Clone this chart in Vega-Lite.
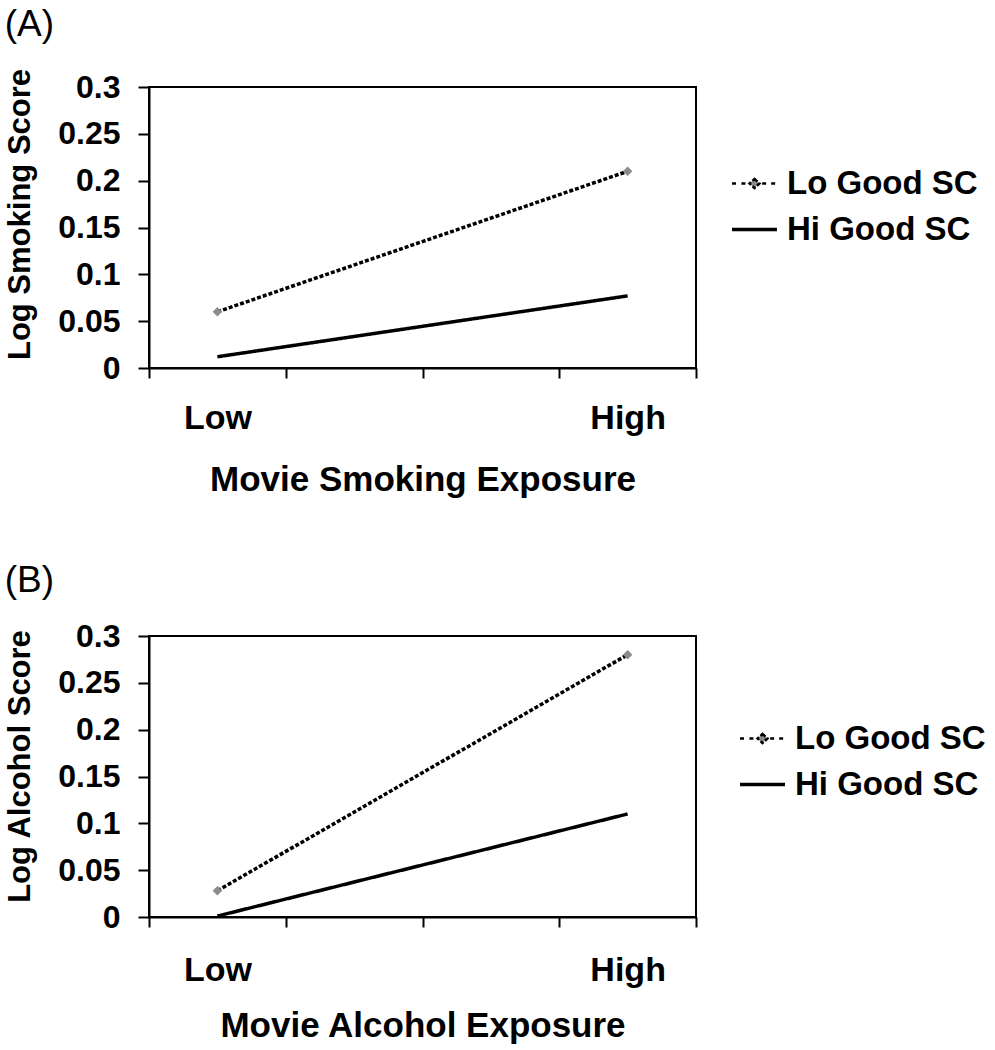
{
  "$schema": "https://vega.github.io/schema/vega-lite/v6.json",
  "background": "white",
  "padding": {"left": 3, "top": 5, "right": 0, "bottom": 0},
  "spacing": 63,
  "config": {
    "view": {"stroke": "black", "strokeWidth": 2},
    "axis": {
      "domainColor": "black", "domainWidth": 2, "tickColor": "black", "tickWidth": 2,
      "labelColor": "black", "titleColor": "black", "grid": false,
      "labelFont": "Liberation Sans", "titleFont": "Liberation Sans",
      "labelFontWeight": "bold", "titleFontWeight": "bold"
    },
    "title": {"font": "Liberation Sans", "fontSize": 37, "fontWeight": "normal", "color": "black", "anchor": "start", "frame": "bounds", "baseline": "alphabetic"}
  },
  "datasets": {
    "smoking": [
      {"group": "Lo Good SC", "exposure": "Low", "value": 0.06},
      {"group": "Lo Good SC", "exposure": "High", "value": 0.21},
      {"group": "Hi Good SC", "exposure": "Low", "value": 0.012},
      {"group": "Hi Good SC", "exposure": "High", "value": 0.077}
    ],
    "alcohol": [
      {"group": "Lo Good SC", "exposure": "Low", "value": 0.028},
      {"group": "Lo Good SC", "exposure": "High", "value": 0.28},
      {"group": "Hi Good SC", "exposure": "Low", "value": 0.001},
      {"group": "Hi Good SC", "exposure": "High", "value": 0.11}
    ]
  },
  "resolve": {"scale": {"color": "independent", "strokeDash": "independent"}, "legend": {"color": "independent"}},
  "vconcat": [
    {
      "title": {"text": "(A)", "offset": 24},
      "width": 547,
      "height": 281,
      "data": {"name": "smoking"},
      "layer": [
        {
          "mark": {"type": "line", "strokeWidth": 3.5},
          "encoding": {
            "x": {
              "field": "exposure", "type": "ordinal", "bandPosition": 0.5,
              "scale": {"type": "band", "domain": ["Low", "q2", "q3", "High"], "paddingInner": 0, "paddingOuter": 0},
              "title": "Movie Smoking Exposure",
              "axis": {"tickBand": "extent", "labelAngle": 0, "labelExpr": "datum.value === 'Low' || datum.value === 'High' ? datum.value : ''", "tickSize": 10, "labelPadding": 23, "labelFontSize": 34, "titleFontSize": 35, "titlePadding": 27}
            },
            "y": {
              "field": "value", "type": "quantitative",
              "scale": {"domain": [0, 0.3], "nice": false},
              "title": "Log Smoking Score",
              "axis": {"values": [0, 0.05, 0.1, 0.15, 0.2, 0.25, 0.3], "format": ".2~f", "tickSize": 11, "labelPadding": 18, "labelFontSize": 32, "titleFontSize": 31, "titlePadding": 21, "titleY": 127}
            },
            "color": {
              "field": "group", "type": "nominal",
              "scale": {"domain": ["Lo Good SC", "Hi Good SC"], "range": ["black", "black"]},
              "legend": {
                "title": null, "orient": "none", "legendX": 589, "legendY": 80, "padding": 0,
                "labelFont": "Liberation Sans", "labelFontWeight": "bold", "labelFontSize": 33, "labelColor": "black", "labelLimit": 0,
                "labelOffset": 16, "symbolSize": 2025, "rowPadding": 12, "symbolType": "stroke",
                "encode": {"symbols": {"update": {
                  "shape": {"signal": "datum.value === 'Lo Good SC' ? 'M-1,0H-0.74M-0.58,0H-0.34M0.34,0H0.58M0.74,0H1M0,-0.2L0.22,0L0,0.2L-0.22,0Z' : 'stroke'"},
                  "stroke": {"signal": "datum.value === 'Lo Good SC' ? '#a6a6a6' : 'black'"},
                  "fill": {"signal": "datum.value === 'Lo Good SC' ? '#8c8c8c' : 'transparent'"},
                  "strokeWidth": {"signal": "datum.value === 'Lo Good SC' ? 2.5 : 3.5"},
                  "strokeDash": {"value": [1, 0]},
                  "size": {"value": 2025}
                }}}
              }
            },
            "strokeDash": {
              "field": "group", "type": "nominal",
              "scale": {"domain": ["Lo Good SC", "Hi Good SC"], "range": [[4, 2], [1, 0]]},
              "legend": null
            }
          }
        },
        {
          "transform": [{"filter": "datum.group === 'Lo Good SC'"}],
          "mark": {"type": "point", "shape": "diamond", "filled": true, "color": "#8c8c8c", "size": 90, "opacity": 1},
          "encoding": {
            "x": {"field": "exposure", "type": "ordinal", "bandPosition": 0.5},
            "y": {"field": "value", "type": "quantitative"}
          }
        }
      ]
    },
    {
      "title": {"text": "(B)", "offset": 20},
      "width": 547,
      "height": 281,
      "data": {"name": "alcohol"},
      "layer": [
        {
          "mark": {"type": "line", "strokeWidth": 3.5},
          "encoding": {
            "x": {
              "field": "exposure", "type": "ordinal", "bandPosition": 0.5,
              "scale": {"type": "band", "domain": ["Low", "q2", "q3", "High"], "paddingInner": 0, "paddingOuter": 0},
              "title": "Movie Alcohol Exposure",
              "axis": {"tickBand": "extent", "labelAngle": 0, "labelExpr": "datum.value === 'Low' || datum.value === 'High' ? datum.value : ''", "tickSize": 10, "labelPadding": 26, "labelFontSize": 34, "titleFontSize": 35, "titlePadding": 21}
            },
            "y": {
              "field": "value", "type": "quantitative",
              "scale": {"domain": [0, 0.3], "nice": false},
              "title": "Log Alcohol Score",
              "axis": {"values": [0, 0.05, 0.1, 0.15, 0.2, 0.25, 0.3], "format": ".2~f", "tickSize": 11, "labelPadding": 18, "labelFontSize": 32, "titleFontSize": 31, "titlePadding": 21, "titleY": 130}
            },
            "color": {
              "field": "group", "type": "nominal",
              "scale": {"domain": ["Lo Good SC", "Hi Good SC"], "range": ["black", "black"]},
              "legend": {
                "title": null, "orient": "none", "legendX": 597, "legendY": 86, "padding": 0,
                "labelFont": "Liberation Sans", "labelFontWeight": "bold", "labelFontSize": 33, "labelColor": "black", "labelLimit": 0,
                "labelOffset": 16, "symbolSize": 2025, "rowPadding": 12, "symbolType": "stroke",
                "encode": {"symbols": {"update": {
                  "shape": {"signal": "datum.value === 'Lo Good SC' ? 'M-1,0H-0.74M-0.58,0H-0.34M0.34,0H0.58M0.74,0H1M0,-0.2L0.22,0L0,0.2L-0.22,0Z' : 'stroke'"},
                  "stroke": {"signal": "datum.value === 'Lo Good SC' ? '#a6a6a6' : 'black'"},
                  "fill": {"signal": "datum.value === 'Lo Good SC' ? '#8c8c8c' : 'transparent'"},
                  "strokeWidth": {"signal": "datum.value === 'Lo Good SC' ? 2.5 : 3.5"},
                  "strokeDash": {"value": [1, 0]},
                  "size": {"value": 2025}
                }}}
              }
            },
            "strokeDash": {
              "field": "group", "type": "nominal",
              "scale": {"domain": ["Lo Good SC", "Hi Good SC"], "range": [[4, 2], [1, 0]]},
              "legend": null
            }
          }
        },
        {
          "transform": [{"filter": "datum.group === 'Lo Good SC'"}],
          "mark": {"type": "point", "shape": "diamond", "filled": true, "color": "#8c8c8c", "size": 90, "opacity": 1},
          "encoding": {
            "x": {"field": "exposure", "type": "ordinal", "bandPosition": 0.5},
            "y": {"field": "value", "type": "quantitative"}
          }
        }
      ]
    }
  ]
}
